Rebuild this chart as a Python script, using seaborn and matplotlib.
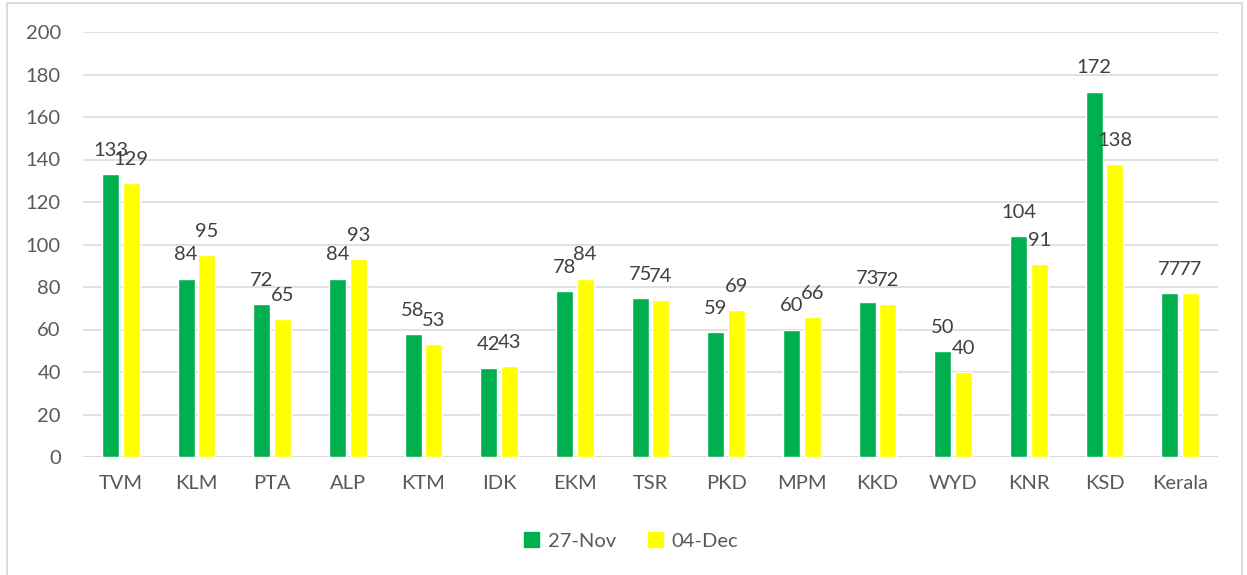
import numpy as np
import pandas as pd
import matplotlib.pyplot as plt
import seaborn as sns
from matplotlib.patches import Rectangle

sns.set_theme(style="white")
plt.rcParams['font.family'] = ['Lato', 'DejaVu Sans']

districts = ["TVM", "KLM", "PTA", "ALP", "KTM", "IDK", "EKM", "TSR", "PKD",
             "MPM", "KKD", "WYD", "KNR", "KSD", "Kerala"]
nov27 = [133, 84, 72, 84, 58, 42, 78, 75, 59, 60, 73, 50, 104, 172, 77]
dec04 = [129, 95, 65, 93, 53, 43, 84, 74, 69, 66, 72, 40, 91, 138, 77]
dates = ["27-Nov", "04-Dec"]
palette = {"27-Nov": "#00B050", "04-Dec": "#FFFF00"}

df = pd.DataFrame({"district": districts * 2,
                   "date": [dates[0]] * len(districts) + [dates[1]] * len(districts),
                   "value": nov27 + dec04})

fig = plt.figure(figsize=(12.47, 5.75), dpi=100)
ax = fig.add_axes([83 / 1247, 1 - 457 / 575, (1218 - 83) / 1247, (457 - 32) / 575])

sns.barplot(data=df, x="district", y="value", hue="date", palette=palette,
            width=0.55, gap=0.18, ax=ax, legend=False, saturation=1)

txt = "#595959"
for cont in ax.containers:
    for bar in cont:
        h = bar.get_height()
        ax.annotate(f"{h:.0f}", (bar.get_x() + bar.get_width() / 2, h),
                    xytext=(0, 13), textcoords="offset points",
                    ha="center", va="baseline", fontsize=14.5, color="#404040")

ax.set_ylim(0, 200)
ax.set_xlim(-0.5, len(districts) - 0.5)
ax.set_yticks(np.arange(0, 201, 20))
ax.yaxis.grid(True, color="#D9D9D9", linewidth=1.1)
ax.set_axisbelow(True)
for s in ax.spines.values():
    s.set_visible(False)
ax.axhline(0, color="#D9D9D9", linewidth=1.1, zorder=0)
ax.tick_params(axis="y", length=0, pad=16, labelsize=14.5, labelcolor=txt)
ax.tick_params(axis="x", length=0, pad=13, labelsize=14.5, labelcolor=txt)
ax.set_xlabel("")
ax.set_ylabel("")

handles = [Rectangle((0, 0), 1, 1, color=palette[d]) for d in dates]
fig.legend(handles, dates, loc="center", bbox_to_anchor=(631 / 1247, 1 - 541 / 575),
           ncol=2, frameon=False, fontsize=14.5, labelcolor=txt,
           handlelength=0.75, handleheight=0.75, handletextpad=0.4, columnspacing=1.6)

fig.patches.append(Rectangle((7 / 1247, -0.01), (1242 - 7) / 1247, 1.01 - 3 / 575,
                             transform=fig.transFigure, fill=False,
                             edgecolor="#D9D9D9", linewidth=1.3))

fig.savefig("out.png", dpi=100)
